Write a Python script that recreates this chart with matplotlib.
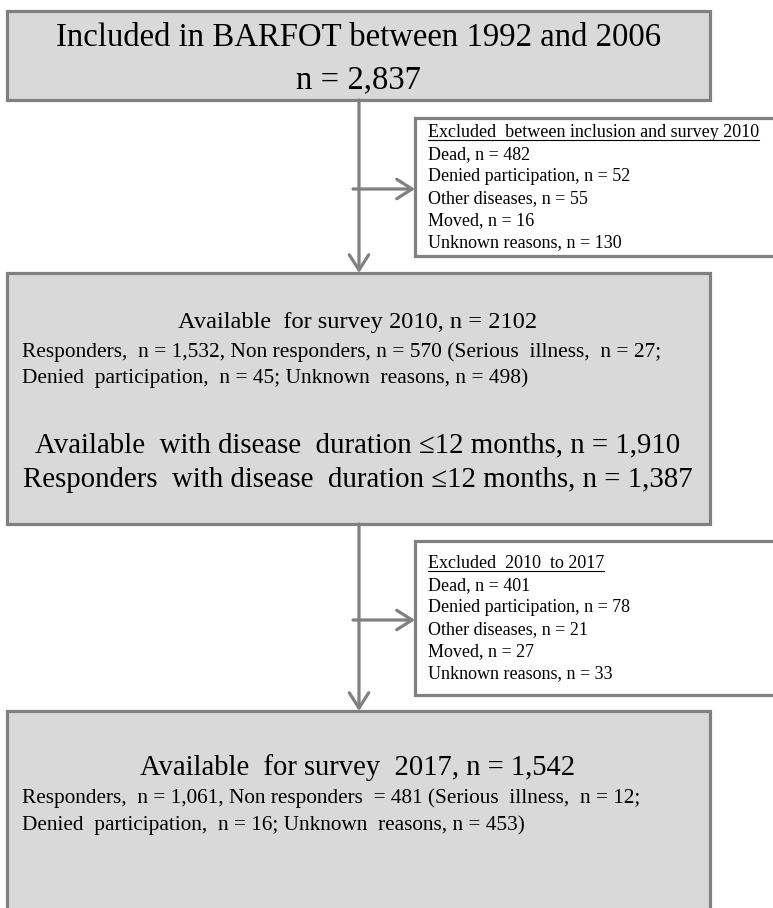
import matplotlib
matplotlib.use("Agg")
import matplotlib.pyplot as plt
from matplotlib.patches import Rectangle

# texts of the flow chart
top_lines = ["Included in BARFOT between 1992 and 2006", "n = 2,837"]

excl1_title = "Excluded  between inclusion and survey 2010"
excl1_lines = ["Dead, n = 482", "Denied participation, n = 52", "Other diseases, n = 55",
               "Moved, n = 16", "Unknown reasons, n = 130"]

s2010_title = "Available  for survey 2010, n = 2102"
s2010_small = ["Responders,  n = 1,532, Non responders, n = 570 (Serious  illness,  n = 27;",
               "Denied  participation,  n = 45; Unknown  reasons, n = 498)"]
s2010_big = ["Available  with disease  duration \u226412 months, n = 1,910",
             "Responders  with disease  duration \u226412 months, n = 1,387"]

excl2_title = "Excluded  2010  to 2017"
excl2_lines = ["Dead, n = 401", "Denied participation, n = 78", "Other diseases, n = 21",
               "Moved, n = 27", "Unknown reasons, n = 33"]

s2017_title = "Available  for survey  2017, n = 1,542"
s2017_small = ["Responders,  n = 1,061, Non responders  = 481 (Serious  illness,  n = 12;",
               "Denied  participation,  n = 16; Unknown  reasons, n = 453)"]

GREY = "#808080"
FILL = "#d9d9d9"
FONT = "Liberation Serif"

fig = plt.figure(figsize=(7.73, 9.08), dpi=100)
ax = fig.add_axes([0, 0, 1, 1])
ax.set_xlim(0, 773)
ax.set_ylim(908, 0)
ax.axis("off")


def box(x0, y0, x1, y1, fc):
    ax.add_patch(Rectangle((x0, y0), x1 - x0, y1 - y0, facecolor=fc,
                           edgecolor=GREY, lw=2.3, zorder=1))


def arrow(x0, y0, x1, y1):
    ax.annotate("", xy=(x1, y1), xytext=(x0, y0),
                arrowprops=dict(arrowstyle="->,head_length=0.55,head_width=0.35",
                                lw=2.3, color=GREY, shrinkA=0, shrinkB=0,
                                mutation_scale=20), zorder=2)


def txt(x, y, s, size, ha="left"):
    return ax.text(x, y, s, fontsize=size, family=FONT, ha=ha, va="baseline", zorder=3)


# main boxes
box(7, 11, 710, 100, FILL)
box(7, 273, 710, 524, FILL)
box(7, 711, 710, 940, FILL)

# side boxes run off the right edge
box(415, 118, 800, 256, "white")
box(415, 541, 800, 695, "white")

# arrows
arrow(359, 100, 359, 273)
arrow(353, 189, 415, 189)
arrow(359, 524, 359, 711)
arrow(353, 620, 415, 620)

# top box
txt(359, 46, top_lines[0], 23.6, "center")
txt(359, 88, top_lines[1], 23.6, "center")

# exclusion boxes
heads = []
heads.append(txt(428, 137, excl1_title, 13))
for i, s in enumerate(excl1_lines):
    txt(428, 159 + i * 22, s, 13)

heads.append(txt(428, 568, excl2_title, 13))
for i, s in enumerate(excl2_lines):
    txt(428, 590 + i * 22, s, 13)

# 2010 box
txt(358, 328, s2010_title, 17.6, "center")
txt(22, 357, s2010_small[0], 15.4)
txt(22, 383, s2010_small[1], 15.4)
txt(358, 452, s2010_big[0], 20.8, "center")
txt(358, 487, s2010_big[1], 20.8, "center")

# 2017 box
txt(358, 775, s2017_title, 20.6, "center")
txt(22, 803, s2017_small[0], 15.3)
txt(22, 830, s2017_small[1], 15.3)

# underline the exclusion headers
fig.canvas.draw()
inv = ax.transData.inverted()
for t in heads:
    bb = t.get_window_extent()
    (xa, _), (xb, _) = inv.transform([[bb.x0, 0], [bb.x1, 0]])
    ybase = t.get_position()[1] + 3
    ax.plot([xa, xb], [ybase, ybase], color="black", lw=0.8, zorder=3)

fig.savefig("out.png", dpi=100)
